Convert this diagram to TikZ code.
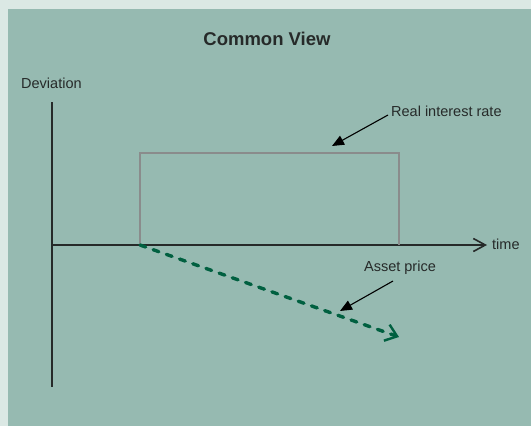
\documentclass[tikz,border=0pt]{standalone}
\usepackage{fontspec}
\setmainfont{Liberation Sans}
\usetikzlibrary{arrows.meta}

\definecolor{frame}{RGB}{219,232,228}
\definecolor{panel}{RGB}{150,186,177}
\definecolor{ink}{RGB}{38,42,41}
\definecolor{rategray}{RGB}{138,140,140}
\definecolor{pricegreen}{RGB}{0,96,64}

\tikzset{
  axis/.style={draw=ink, line width=2pt},
  lbl/.style={font=\fontsize{14.5}{16}\selectfont, text=ink, inner sep=0pt},
  pointer/.style={draw=black, line width=1.1pt, -{Triangle[length=12pt,width=10pt]}},
}

\begin{document}
\begin{tikzpicture}[x=1pt,y=-1pt]
\useasboundingbox (0,0) rectangle (531,426);
\fill[frame] (0,0) rectangle (531,426);
\fill[panel] (8,9) rectangle (531,426);
\path
(267,39) node[font=\fontsize{18.5}{20}\bfseries, text=ink, inner sep=0pt] (title) {Common View}
(21,83) node[lbl, anchor=west] (dev) {Deviation}
(52,102) coordinate (ytop)
(52,387) coordinate (ybot)
(52,245) coordinate (O)
(487,245) coordinate (xend)
(492,244) node[lbl, anchor=west] (time) {time}
(140,245) coordinate (a)
(140,153) coordinate (b)
(399,153) coordinate (c)
(399,245) coordinate (d)
(399,337) coordinate (e)
(391,111) node[lbl, anchor=west] (real) {Real interest rate}
(388,115) coordinate (real-s)
(332,146) coordinate (real-t)
(400,268) node[lbl] (asset) {Asset price}
(393,281) coordinate (asset-s)
(340,311) coordinate (asset-t);
% axes
\draw[axis] (ytop)--(ybot);
\draw[axis, -{Straight Barb[length=12pt,width=13pt,line width=1.6pt]}] (O)--(xend);
% real interest rate
\draw[rategray, line width=2.6pt] (a)--(b)--(c)--(d);
% asset price
\draw[pricegreen, line width=3.4pt, line cap=round, dash pattern=on 6pt off 8pt,
      -{Straight Barb[length=11pt,width=17pt,line width=2.4pt]}] (a)--(e);
% labels
\draw[pointer] (real-s)--(real-t);
\draw[pointer] (asset-s)--(asset-t);
\end{tikzpicture}
\end{document}
